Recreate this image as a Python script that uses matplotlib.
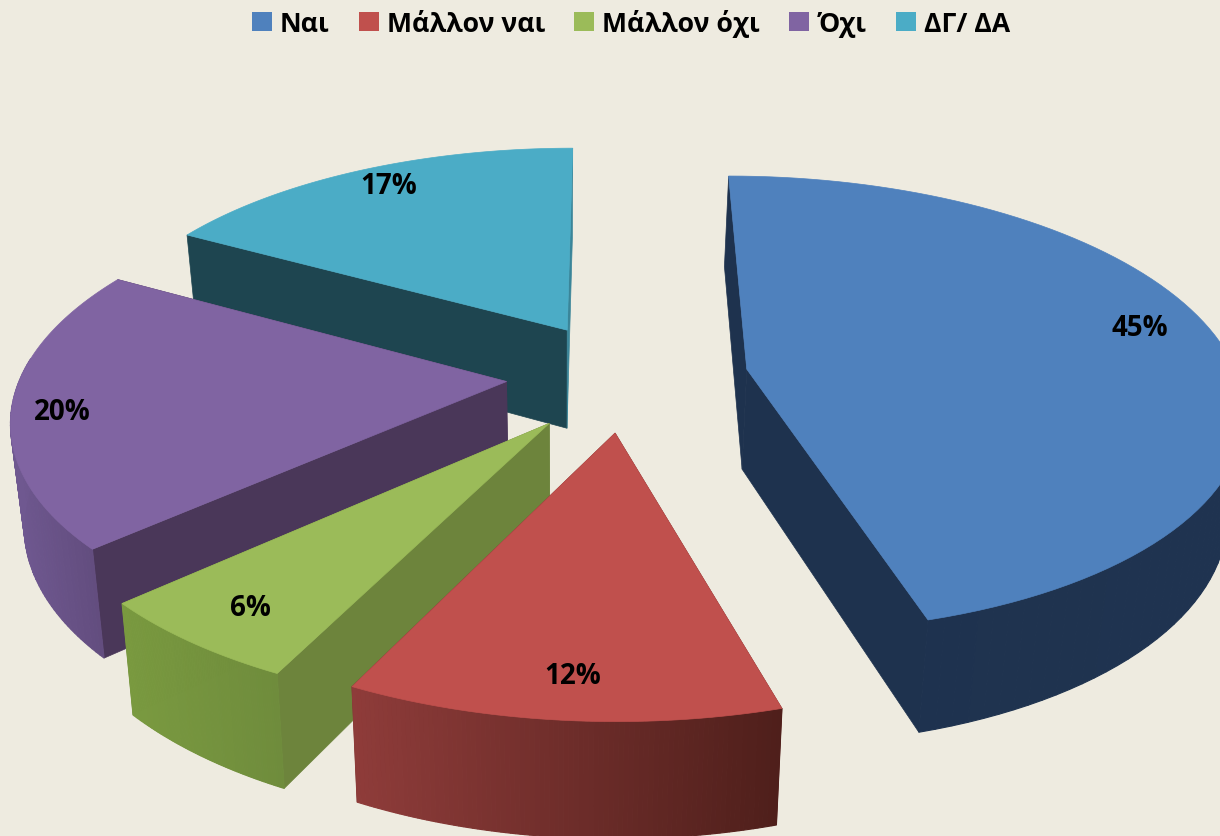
import numpy as np
import matplotlib
matplotlib.use('Agg')
import matplotlib.pyplot as plt
from matplotlib.patches import Patch

labels = ['Ναι', 'Μάλλον ναι', 'Μάλλον όχι', 'Όχι', 'ΔΓ/ ΔΑ']
values = [45, 12, 6, 20, 17]

# colours per slice: top, flat cut walls, outer wall left/right
top_colors = ['#4f81bd', '#c0504d', '#9bbb59', '#8064a2', '#4bacc6']
cut_colors = ['#1e324e', '#6a2a28', '#6d843c', '#4a3759', '#1e4550']
cut2_colors = ['#1e324e', '#6a2a28', '#6d843c', '#4a3759', '#3a8599']
rim_left = ['#1e324e', '#8f3c3a', '#7a9a40', '#6f5890', '#3a8599']
rim_right = ['#1f3350', '#4f1f1b', '#6f8c3c', '#5f4a7a', '#3a8599']

# exploded offset of each slice in the pie plane (x, depth), and its radius
offset_x = [0.28, 0.01, -0.12, -0.21, -0.09]
offset_z = [0.115, 0.39, 0.35, 0.17, -0.065]
radius = [1.0, 1.0, 1.0, 0.99, 0.99]
draw_order = [4, 3, 0, 2, 1]

label_xy = [(1140, 328), (573, 676), (250, 609), (62, 412), (389, 186)]

CX, CY = 610, 345
RX, RY = 480, 215
PERSP = 0.15
DEPTH = 100


def project(px, pz):
    s = 1 / (1 - PERSP * pz)
    return CX + RX * px * s, CY + RY * pz * s


def drop(x, y):
    # lower face of the pie, slightly narrower and further down in front
    return 560 + (x - 560) * 0.975, y + DEPTH + 0.049 * (y - 370)


def skew_angle(t):
    # the original's perspective turns the front of the pie by a degree or two
    return t + np.radians(np.interp(np.degrees(t), [0, 162, 205, 360], [0, 2, 1.15, 0]))


def mix(c1, c2, f):
    a = np.array(matplotlib.colors.to_rgb(c1))
    b = np.array(matplotlib.colors.to_rgb(c2))
    return a * (1 - f) + b * f


fig = plt.figure(figsize=(12.2, 8.37), dpi=100, facecolor='#eeebe0')
ax = fig.add_axes([0, 0, 1, 1])
ax.set_xlim(0, 1220)
ax.set_ylim(837, 0)
ax.axis('off')

edges = np.cumsum([0] + values) / sum(values) * 2 * np.pi

for i in draw_order:
    t = skew_angle(np.linspace(edges[i], edges[i + 1], 90))
    x, y = project(offset_x[i] + radius[i] * np.sin(t), offset_z[i] - radius[i] * np.cos(t))
    x0, y0 = project(offset_x[i], offset_z[i])
    xb, yb = drop(x, y)
    x0b, y0b = drop(x0, y0)

    # the two straight cut walls
    ax.fill([x0, x[0], xb[0], x0b], [y0, y[0], yb[0], y0b], color=cut_colors[i], lw=0.5)
    ax.fill([x0, x[-1], xb[-1], x0b], [y0, y[-1], yb[-1], y0b], color=cut2_colors[i], lw=0.5)

    # outer wall, shaded from left to right, only the part facing the viewer
    span = max(x.max() - x.min(), 1)
    for j in range(len(t) - 1):
        if np.cos(t[j]) > 0.1:
            continue
        f = (x[j] - x.min()) / span
        c = mix(rim_left[i], rim_right[i], f)
        ax.fill([x[j], x[j + 1], xb[j + 1], xb[j]], [y[j], y[j + 1], yb[j + 1], yb[j]],
                color=c, lw=0.8)

    ax.fill(np.r_[x0, x], np.r_[y0, y], color=top_colors[i], lw=0.5)

for i, v in enumerate(values):
    ax.text(label_xy[i][0], label_xy[i][1], '%d%%' % v, ha='center', va='center',
            fontsize=20, fontweight='bold', family='Open Sans', color='black')

handles = [Patch(facecolor=c, label=l) for c, l in zip(top_colors, labels)]
fig.legend(handles=handles, loc='upper center', bbox_to_anchor=(0.517, 1.017), ncol=5,
           frameon=False, handlelength=0.75, handleheight=0.75, handletextpad=0.3,
           columnspacing=1.1, prop={'family': 'Open Sans', 'weight': 'bold', 'size': 19.2})

fig.savefig('out.png', dpi=100, facecolor=fig.get_facecolor())
